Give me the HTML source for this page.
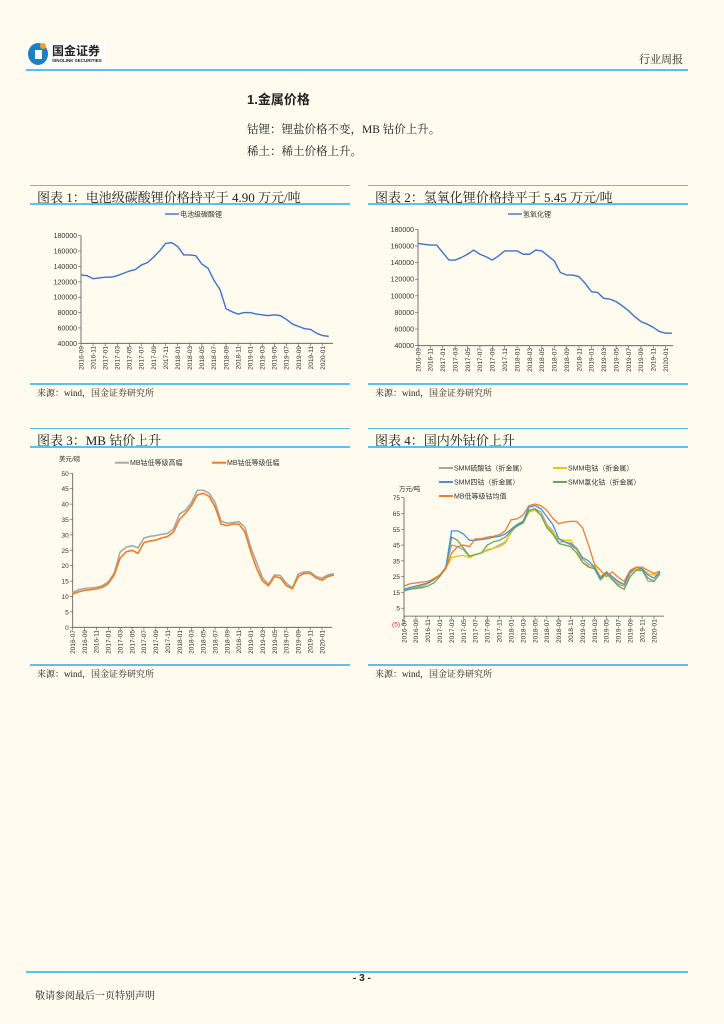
<!DOCTYPE html>
<html><head><meta charset="utf-8">
<style>
html,body{margin:0;padding:0;background:#fffbef;}
body{width:724px;height:1024px;position:relative;overflow:hidden;font-family:"Liberation Serif","Noto Serif CJK SC",serif;color:#222;}
.abs{position:absolute;white-space:nowrap;}
.hl{position:absolute;height:2px;background:#5bc0eb;}
.ttl{position:absolute;font-size:13px;font-family:"Liberation Serif","Noto Serif CJK SC",serif;white-space:nowrap;}
.src{position:absolute;font-size:9px;white-space:nowrap;}
svg{position:absolute;left:0;top:0;}
svg text{font-family:"Liberation Sans","Noto Sans CJK SC",sans-serif;}
</style></head>
<body>
<div class="abs" style="left:27px;top:42px;width:78px;height:24px;background:#fff;">
  <div style="position:absolute;left:1px;top:1px;width:20px;height:22px;border-radius:50%;background:#1f7fc4;"></div>
  <div style="position:absolute;left:8px;top:8px;width:7px;height:9px;background:#fff;"></div>
  <div style="position:absolute;left:13px;top:1px;width:6px;height:6px;border-radius:50%;background:#f3a21b;"></div>
  <div style="position:absolute;left:25px;top:0px;font-size:12px;font-weight:bold;font-family:'Noto Sans CJK SC',sans-serif;color:#222;white-space:nowrap;">国金证券</div>
  <div style="position:absolute;left:25px;top:16px;font-size:4.5px;font-weight:bold;font-family:'Liberation Sans',sans-serif;color:#222;white-space:nowrap;">SINOLINK SECURITIES</div>
</div>
<div class="abs" style="left:639px;top:51px;font-size:11px;">行业周报</div>
<div class="hl" style="left:26px;top:69px;width:662px;"></div>

<div class="abs" style="left:247px;top:89px;font-size:13px;font-weight:bold;font-family:'Liberation Sans','Noto Sans CJK SC',sans-serif;">1.金属价格</div>
<div class="abs" style="left:247px;top:121px;font-size:11.5px;">钴锂：锂盐价格不变，MB 钴价上升。</div>
<div class="abs" style="left:247px;top:143px;font-size:11.5px;">稀土：稀土价格上升。</div>

<div class="hl" style="left:30px;top:185px;width:320px;height:1px;"></div>
<div class="ttl" style="left:37px;top:187px;">图表 1：电池级碳酸锂价格持平于 4.90 万元/吨</div>
<div class="hl" style="left:30px;top:203px;width:320px;"></div>
<div class="hl" style="left:30px;top:383px;width:320px;"></div>
<div class="src" style="left:37px;top:386px;">来源：wind，国金证券研究所</div>

<div class="hl" style="left:368px;top:185px;width:320px;height:1px;"></div>
<div class="ttl" style="left:375px;top:187px;">图表 2：氢氧化锂价格持平于 5.45 万元/吨</div>
<div class="hl" style="left:368px;top:203px;width:320px;"></div>
<div class="hl" style="left:368px;top:383px;width:320px;"></div>
<div class="src" style="left:375px;top:386px;">来源：wind，国金证券研究所</div>

<div class="hl" style="left:30px;top:428px;width:320px;height:1px;"></div>
<div class="ttl" style="left:37px;top:430px;">图表 3：MB 钴价上升</div>
<div class="hl" style="left:30px;top:446px;width:320px;"></div>
<div class="hl" style="left:30px;top:664px;width:320px;"></div>
<div class="src" style="left:37px;top:667px;">来源：wind，国金证券研究所</div>

<div class="hl" style="left:368px;top:428px;width:320px;height:1px;"></div>
<div class="ttl" style="left:375px;top:430px;">图表 4：国内外钴价上升</div>
<div class="hl" style="left:368px;top:446px;width:320px;"></div>
<div class="hl" style="left:368px;top:664px;width:320px;"></div>
<div class="src" style="left:375px;top:667px;">来源：wind，国金证券研究所</div>

<div class="hl" style="left:26px;top:971px;width:662px;"></div>
<div class="abs" style="left:353px;top:973px;font-size:10px;font-weight:bold;font-family:'Liberation Sans',sans-serif;">- 3 -</div>
<div class="abs" style="left:35px;top:987px;font-size:10px;">敬请参阅最后一页特别声明</div>

<svg id="charts" width="724" height="1024" viewBox="0 0 724 1024"></svg>

<script>
const c1Values = [129000,128000,124000,125000,126000,126000,128000,131000,134000,136000,142000,145000,152000,160000,170000,171000,166000,155000,155000,154000,143000,138000,122000,110000,85000,81000,78000,80000,80000,78000,77000,76000,77000,76000,71000,65000,62000,59000,58000,53000,50000,49000];
const c1Ticks = [40000,60000,80000,100000,120000,140000,160000,180000];
const c1XLabels = ["2016-09","2016-11","2017-01","2017-03","2017-05","2017-07","2017-09","2017-11","2018-01","2018-03","2018-05","2018-07","2018-09","2018-11","2019-01","2019-03","2019-05","2019-07","2019-09","2019-11","2020-01"];
const c2Values = [163000,162000,161000,161000,152000,143000,143000,146000,150000,155000,150000,147000,143000,148000,154000,154000,154000,150000,150000,155000,154000,148000,142000,128000,125000,125000,123000,115000,105000,104000,97000,96000,93000,88000,82000,75000,69000,66000,62000,57000,55000,55000];
const c2Ticks = c1Ticks;
const c2XLabels = c1XLabels;
const c3Low = [10.8,11.5,12,12.2,12.5,13,14.2,17,22.5,24.5,25,24,27.5,28,28.3,29,29.5,31,35,37,39.5,43,43.5,42.5,39,33.5,33,33.5,33.5,31,24.5,19,15,13.5,16.5,16,13.5,12.5,16.5,17.5,17.5,16,15.3,16.5,17];
const c3High = [11.3,12.2,12.6,12.8,13,13.5,14.8,17.6,24.5,26,26.5,25.8,29,29.5,29.8,30.2,30.5,32,36.8,38,40.5,44.5,44.5,43.5,40.5,34.5,33.8,34,34.3,32.5,26,21,16,14,17,16.8,14.3,12.8,17.3,18,18,16.5,16,17,17.4];
const c3Ticks = [0,5,10,15,20,25,30,35,40,45,50];
const c3XLabels = ["2016-07","2016-09","2016-11","2017-01","2017-03","2017-05","2017-07","2017-09","2017-11","2018-01","2018-03","2018-05","2018-07","2018-09","2018-11","2019-01","2019-03","2019-05","2019-07","2019-09","2019-11","2020-01"];
const c4Sulfate = [16,17,18,19,20.5,23,26,31,45,44,42,37.5,39,40,42,43,45,47,53,58,59,67,68,66,58,54,47,47,45,42,36,33,30,23,27,24,20,19,27,30,29,22,22,27];
const c4Electro = [17,18,19,19.5,21,24,26,30,37,38,38.5,37,39,40,41.5,43,44,46,54,57,59,66,67,64,57,53,49,48,48,42,34,32,32,25,28,25,21,20,28,30,30,27,26,27];
const c4Tetroxide = [17,18,19,20,21,23,26,30,54,54,52,48,48,48.5,49,50,50.5,52,55,58,60,69,70,68,63,58,49,47,46,43,37,35,31,24,28,25,22,20,28,31,30,26,24,28];
const c4Chloride = [16,17,17.5,18,19,21,25,30,50,48,43,38,39,40,45,47,48,50,54,57,59,67,68,64,56,52,46,45,44,40,34,31,30,23,27,23,19,17,25,29,29,24,22,27];
const c4MB = [19,20.5,21,21.5,22,23.5,26,30,40,44,45,44,49,49,50,50.5,51.5,54,61,61.5,64,70,71,70,67,62,58.5,59.5,60,60,56,45,33,29,25,28,24.5,22,29,31,31,29,27,28.5];
const c4Ticks = [-5,5,15,25,35,45,55,65,75];
const c4XLabels = c3XLabels;

const NS = "http://www.w3.org/2000/svg";
const svg = document.getElementById('charts');
function mk(tag, attrs, parent){
  const e = document.createElementNS(NS, tag);
  for (const k in attrs) e.setAttribute(k, attrs[k]);
  (parent||svg).appendChild(e);
  return e;
}
function scaleLin(d0,d1,r0,r1){ return v => r0 + (v-d0)/(d1-d0)*(r1-r0); }

function axes(cfg){
  const g = mk('g',{});
  
  
  const axisY = cfg.axisY;
  const yl = mk('line',{x1:cfg.x0,x2:cfg.x0,y1:cfg.y(cfg.ticks[cfg.ticks.length-1]),y2:cfg.y(cfg.ticks[0]),stroke:'#555','stroke-width':0.8},g);
  
  
  const xl = mk('line',{x1:cfg.x0,x2:cfg.x1,y1:axisY,y2:axisY,stroke:'#555','stroke-width':0.8},g);
  
  
  cfg.ticks.forEach(t=>{
    const yy = cfg.y(t);
    mk('line',{x1:cfg.x0-3,x2:cfg.x0,y1:yy,y2:yy,stroke:'#555','stroke-width':0.6},g);
    const tx = mk('text',{x:cfg.x0-4,y:yy+2.5,'font-size':cfg.tickFont||7,'text-anchor':'end',fill:(cfg.neg&&t<0)?'#d22':'#333'},g);
    tx.textContent = cfg.fmt ? cfg.fmt(t) : t;
    
    
  });
  cfg.xlabels.forEach((lab,i)=>{
    const xx = cfg.x(i*2);
    mk('line',{x1:xx,x2:xx,y1:axisY,y2:axisY+3,stroke:'#555','stroke-width':0.6},g);
    const tx = mk('text',{x:0,y:0,'font-size':6.5,'text-anchor':'end',fill:'#333',
      transform:'translate('+(xx+2.3)+','+(cfg.labelY)+') rotate(-90)'},g);
    tx.textContent = lab;
    
    
  });
}
function series(vals, x, y, color, w, name){
  let d = '';
  vals.forEach((v,i)=>{ d += (i?'L':'M') + x(i).toFixed(2) + ',' + y(v).toFixed(2); });
  const p = mk('path',{d:d,fill:'none',stroke:color,'stroke-width':w,'stroke-linejoin':'round'});
  
  
}
function legend(x, y, color, w, label, name){
  const g = mk('g',{});
  
  
  mk('line',{x1:x,x2:x+14,y1:y,y2:y,stroke:color,'stroke-width':w},g);
  const t = mk('text',{x:x+15,y:y+2.5,'font-size':7,fill:'#333'},g);
  t.textContent = label;
}

{
  const x = scaleLin(0,40,81,322.7), y = scaleLin(40000,180000,343.3,235.7);
  axes({name:'chart1',x0:81,x1:333,x:x,y:y,axisY:343.3,ticks:c1Ticks,xlabels:c1XLabels,labelY:346});
  series(c1Values,x,y,'#3f72c9',1.4,'line-lithium-carbonate');
  legend(165,214,'#3f72c9',1.4,'电池级碳酸锂','legend-lithium-carbonate');
}
{
  const x = scaleLin(0,40,418,665.7), y = scaleLin(40000,180000,345.7,229.3);
  axes({name:'chart2',x0:418,x1:673,x:x,y:y,axisY:345.7,ticks:c2Ticks,xlabels:c2XLabels,labelY:348});
  series(c2Values,x,y,'#3f72c9',1.4,'line-lithium-hydroxide');
  legend(508,214,'#3f72c9',1.4,'氢氧化锂','legend-lithium-hydroxide');
}
{
  const x = scaleLin(0,42,72.7,322), y = scaleLin(0,50,627.3,473.3);
  axes({name:'chart3',x0:72.7,x1:332,x:x,y:y,axisY:627.3,ticks:c3Ticks,xlabels:c3XLabels,labelY:630,tickFont:6.5});
  series(c3High,x,y,'#a9a9a9',1.6,'line-mb-high');
  series(c3Low,x,y,'#ef7d22',1.6,'line-mb-low');
  legend(115,462.7,'#a9a9a9',2,'MB钴低等级高幅','legend-mb-high');
  legend(212,462.7,'#ef7d22',2,'MB钴低等级低幅','legend-mb-low');
  const u = mk('text',{x:59,y:461,'font-size':6.5,fill:'#333'});
  u.textContent = '美元/磅';
  
  
}
{
  const x = scaleLin(0,42,404,654), y = scaleLin(-5,75,624,497.7);
  axes({name:'chart4',x0:404,x1:664,x:x,y:y,axisY:y(0),ticks:c4Ticks,xlabels:c4XLabels,labelY:y(0)+3,tickFont:6.5,neg:true,fmt:t=>t<0?'('+(-t)+')':t});
  series(c4Sulfate,x,y,'#a5a5a5',1.3,'line-smm-sulfate');
  series(c4Electro,x,y,'#f5c000',1.3,'line-smm-electrolytic');
  series(c4Chloride,x,y,'#6aa84f',1.3,'line-smm-chloride');
  series(c4Tetroxide,x,y,'#4a90d9',1.3,'line-smm-tetroxide');
  series(c4MB,x,y,'#ed7d31',1.3,'line-mb-average');
  legend(439,468,'#a5a5a5',2,'SMM硫酸钴（折金属）','legend-smm-sulfate');
  legend(553,468,'#f5c000',2,'SMM电钴（折金属）','legend-smm-electrolytic');
  legend(439,482,'#4a90d9',2,'SMM四钴（折金属）','legend-smm-tetroxide');
  legend(553,482,'#6aa84f',2,'SMM氯化钴（折金属）','legend-smm-chloride');
  legend(439,496,'#ed7d31',2,'MB低等级钴均值','legend-mb-average');
  const u = mk('text',{x:399,y:491,'font-size':6.5,fill:'#333'});
  u.textContent = '万元/吨';
  
  
}
</script>
</body></html>
